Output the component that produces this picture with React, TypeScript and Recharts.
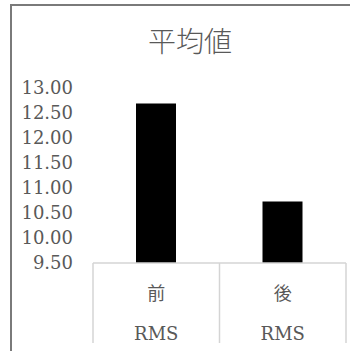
import React from "react";
import { BarChart, Bar, XAxis, YAxis } from "recharts";

const categories = ["前", "後"];
const groups = ["RMS", "RMS"];
const values = [12.69, 10.73];
const yTicks = [9.5, 10, 10.5, 11, 11.5, 12, 12.5, 13];

const data = categories.map((c, i) => ({ name: c, group: groups[i], value: values[i] }));

const W = 350;
const H = 351;
const MARGIN = { top: 88, right: 4, left: 11, bottom: 0 };
const Y_WIDTH = 82;
const X_HEIGHT = 88;
const plotWidth = W - MARGIN.left - Y_WIDTH - MARGIN.right;
const band = plotWidth / categories.length;

const serif = "'DejaVu Serif', 'Noto Sans CJK JP', serif";
const textColor = "#595959";
const gridColor = "#d4d4d4";

// two-level category axis, drawn like a table under the bars
function CategoryTick(props: any) {
  const { x, y, index, payload } = props;
  const row = data[index];
  const left = x - band / 2;
  const right = x + band / 2;
  return (
    <g>
      <line x1={left} y1={y} x2={left} y2={y + 80} stroke={gridColor} strokeWidth={1.5} />
      {index === data.length - 1 && (
        <line x1={right} y1={y} x2={right} y2={y + 80} stroke={gridColor} strokeWidth={1.5} />
      )}
      <text x={x} y={y + 30} textAnchor="middle" dominantBaseline="central" fontSize={18} fill={textColor} fontFamily={serif}>
        {payload.value}
      </text>
      <text x={x} y={y + 70} textAnchor="middle" dominantBaseline="central" fontSize={18} fill={textColor} fontFamily={serif}>
        {row ? row.group : ""}
      </text>
    </g>
  );
}

export default function App() {
  return (
    <div style={{ position: "absolute", left: 0, top: 0, width: W, height: H, background: "#fff", overflow: "hidden" }}>
      <div
        style={{
          position: "absolute",
          left: 10,
          top: 4,
          width: W,
          height: H,
          borderLeft: "2px solid #7a7a7a",
          borderTop: "2px solid #7a7a7a",
        }}
      />
      <div
        style={{
          position: "absolute",
          left: 0,
          top: 26,
          width: 380,
          textAlign: "center",
          fontSize: 28,
          lineHeight: "28px",
          color: textColor,
          fontFamily: "'Noto Sans CJK JP', sans-serif",
          fontWeight: 300,
        }}
      >
        平均値
      </div>
      <div style={{ position: "absolute", left: 0, top: 0 }}>
        <BarChart width={W} height={H} data={data} margin={MARGIN}>
          <XAxis
            dataKey="name"
            height={X_HEIGHT}
            axisLine={{ stroke: gridColor, strokeWidth: 1.5 }}
            tickLine={false}
            tickSize={0}
            tickMargin={0}
            tick={<CategoryTick />}
            interval={0}
          />
          <YAxis
            width={Y_WIDTH}
            domain={[9.5, 13]}
            ticks={yTicks}
            interval={0}
            axisLine={false}
            tickLine={false}
            tickSize={0}
            tickMargin={20}
            tickFormatter={(v: number) => v.toFixed(2)}
            tick={{ fontSize: 18, fill: textColor, fontFamily: serif }}
          />
          <Bar dataKey="value" fill="#000" barSize={40} isAnimationActive={false} />
        </BarChart>
      </div>
    </div>
  );
}
